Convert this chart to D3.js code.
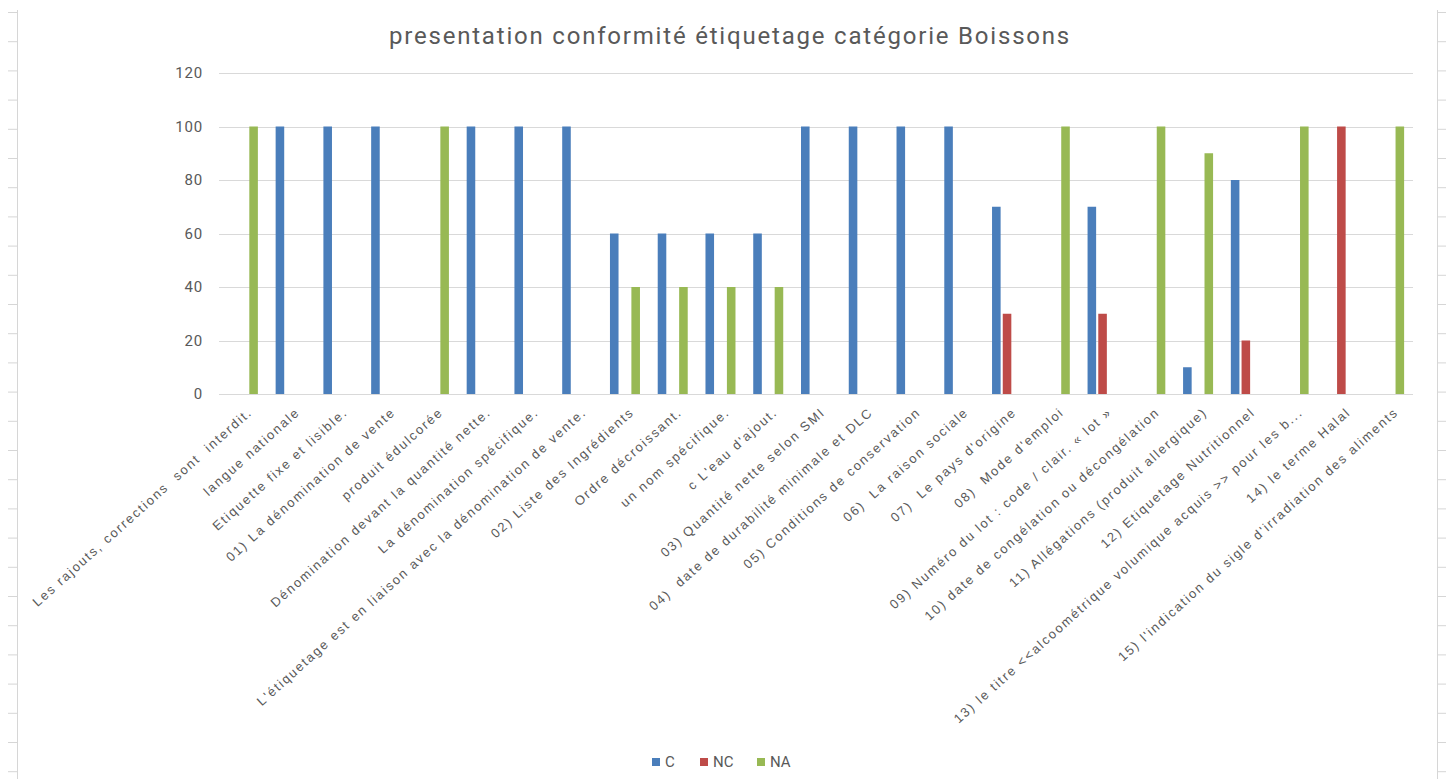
<!DOCTYPE html>
<html lang="fr">
<head>
<meta charset="utf-8">
<script src="https://cdn.jsdelivr.net/npm/d3@7"></script>
<style>
  body { margin: 0; background: #fff; }
  svg { display: block; }
  text { white-space: pre; }
</style>
</head>
<body>
<script>
// categories and values per series
const categories = [
  "Les rajouts, corrections  sont  interdit.",
  "langue nationale",
  "Etiquette fixe et lisible.",
  "01) La dénomination de vente",
  "produit édulcorée",
  "Dénomination devant la quantité nette.",
  "La dénomination spécifique.",
  "L'étiquetage est en liaison avec la dénomination de vente.",
  "02) Liste des Ingrédients",
  "Ordre décroissant.",
  "un nom spécifique.",
  "c L'eau d'ajout.",
  "03) Quantité nette selon SMI",
  "04)  date de durabilité minimale et DLC",
  "05) Conditions de conservation",
  "06)  La raison sociale",
  "07)  Le pays d'origine",
  "08)  Mode d'emploi",
  "09) Numéro du lot : code / clair. « lot »",
  "10) date de congélation ou décongélation",
  "11) Allégations (produit allergique)",
  "12) Etiquetage Nutritionnel",
  "13) le titre <<alcoométrique volumique acquis >> pour les b...",
  "14) le terme Halal",
  "15) l'indication du sigle d'irradiation des aliments"
];
const seriesNames = ["C", "NC", "NA"];
const valuesC  = [0,100,100,100,0,100,100,100,60,60,60,60,100,100,100,100,70,0,70,0,10,80,0,0,0];
const valuesNC = [0,0,0,0,0,0,0,0,0,0,0,0,0,0,0,0,30,0,30,0,0,20,0,100,0];
const valuesNA = [100,0,0,0,100,0,0,0,40,40,40,40,0,0,0,0,0,100,0,100,90,0,100,0,100];
const yTicks = [0, 20, 40, 60, 80, 100, 120];
const colors = ["#4a7ebb", "#be4b48", "#98b954"];

const W = 1446, H = 779;
const margin = {left: 219, right: 33, top: 73, bottom: 385};
const seriesValues = [valuesC, valuesNC, valuesNA];

const svg = d3.select("body").append("svg")
  .attr("width", W).attr("height", H);

// frame-ish edges of the original screenshot
const edgeTicks = d3.range(12, H, 29.2);
svg.append("line").attr("x1", 17.5).attr("x2", 17.5).attr("y1", 10).attr("y2", H)
  .attr("stroke", "#d6d6d6");
svg.selectAll(".lt").data(edgeTicks).enter().append("line")
  .attr("x1", 8).attr("x2", 17).attr("y1", d => d + 0.5).attr("y2", d => d + 0.5)
  .attr("stroke", "#d6d6d6");
svg.append("line").attr("x1", 1437.5).attr("x2", 1437.5).attr("y1", 10).attr("y2", H)
  .attr("stroke", "#d6d6d6");
svg.selectAll(".rt").data(edgeTicks).enter().append("line")
  .attr("x1", 1438).attr("x2", 1446).attr("y1", d => d + 0.5).attr("y2", d => d + 0.5)
  .attr("stroke", "#d6d6d6");

const x0 = d3.scaleBand()
  .domain(d3.range(categories.length))
  .range([margin.left, W - margin.right]);
const x1 = d3.scaleBand()
  .domain(seriesNames)
  .range([x0.bandwidth() / 2 - 15, x0.bandwidth() / 2 + 15])
  .paddingInner(0.2);
const y = d3.scaleLinear()
  .domain([0, 120])
  .range([H - margin.bottom, margin.top]);

// grid
svg.append("g")
  .selectAll("line").data(yTicks).enter().append("line")
  .attr("x1", margin.left).attr("x2", W - margin.right)
  .attr("y1", d => Math.round(y(d)) + 0.5).attr("y2", d => Math.round(y(d)) + 0.5)
  .attr("stroke", "#d9d9d9");

// y labels
svg.append("g")
  .selectAll("text").data(yTicks).enter().append("text")
  .attr("x", 203).attr("y", d => y(d))
  .attr("dy", "0.35em")
  .attr("text-anchor", "end")
  .attr("font-family", "Roboto, sans-serif")
  .attr("font-size", 15)
  .attr("letter-spacing", 0.8)
  .attr("fill", "#595959")
  .text(d => d);

// bars
const groups = svg.append("g").selectAll("g")
  .data(seriesValues).enter().append("g")
  .attr("fill", (d, i) => colors[i]);
groups.selectAll("rect")
  .data((d, i) => d.map((v, j) => ({v: v, j: j, s: seriesNames[i]})))
  .enter().append("rect")
  .filter(d => d.v > 0)
  .attr("x", d => x0(d.j) + x1(d.s))
  .attr("width", x1.bandwidth())
  .attr("y", d => y(d.v))
  .attr("height", d => y(0) - y(d.v));

// category labels
svg.append("g")
  .selectAll("text").data(categories).enter().append("text")
  .attr("transform", (d, i) => `translate(${x0(i) + x0.bandwidth() / 2 + 7},${y(0) + 16}) rotate(-42)`)
  .attr("text-anchor", "end")
  .attr("dy", "0.35em")
  .attr("font-family", "'Liberation Sans', Arial, sans-serif")
  .attr("font-size", 13)
  .attr("letter-spacing", 1.8)
  .attr("fill", "#595959")
  .text(d => d);

// title
svg.append("text")
  .attr("x", 730).attr("y", 44)
  .attr("text-anchor", "middle")
  .attr("font-family", "Roboto, sans-serif")
  .attr("font-size", 24)
  .attr("letter-spacing", 1.8)
  .attr("fill", "#595959")
  .text("presentation conformité étiquetage catégorie Boissons");

// legend
const legend = svg.append("g").attr("transform", "translate(652,762)");
const legX = [0, 48, 105];
const items = legend.selectAll("g").data(seriesNames).enter().append("g")
  .attr("transform", (d, i) => `translate(${legX[i]},0)`);
items.append("rect").attr("x", 0).attr("y", -4).attr("width", 8).attr("height", 8)
  .attr("fill", (d, i) => colors[i]);
items.append("text").attr("x", 13).attr("dy", "0.35em")
  .attr("font-family", "Roboto, sans-serif")
  .attr("font-size", 15)
  .attr("fill", "#595959")
  .text(d => d);
</script>
</body>
</html>
